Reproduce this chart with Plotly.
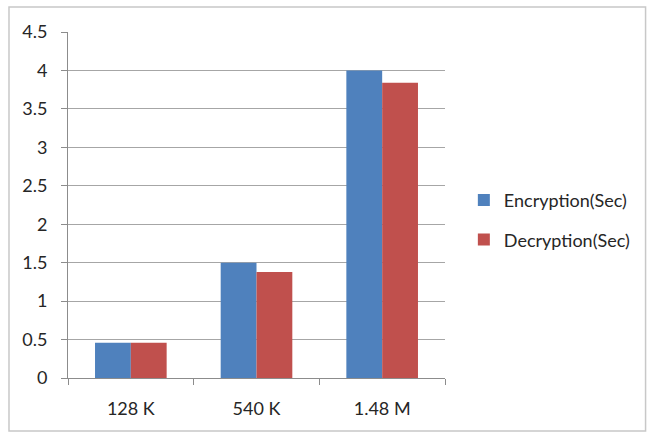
import plotly.graph_objects as go

# File sizes tested and timings in seconds
categories = ["128 K", "540 K", "1.48 M"]
encryption_sec = [0.46, 1.5, 4.0]
decryption_sec = [0.46, 1.38, 3.84]
y_ticks = [0, 0.5, 1, 1.5, 2, 2.5, 3, 3.5, 4, 4.5]
y_tick_text = ["0", "0.5", "1", "1.5", "2", "2.5", "3", "3.5", "4", "4.5"]

FONT = "Lato, 'Open Sans', sans-serif"
AXIS_GREY = "#8c8c8c"
TEXT = "#262626"

fig = go.Figure()
fig.add_trace(go.Bar(
    name="Encryption(Sec)", x=categories, y=encryption_sec, legendgroup="enc",
    marker=dict(color="#4F81BD", line=dict(width=0)),
))
fig.add_trace(go.Bar(
    name="Decryption(Sec)", x=categories, y=decryption_sec, legendgroup="dec",
    marker=dict(color="#C0504D", line=dict(width=0)),
))

fig.update_layout(
    width=648, height=433,
    margin=dict(l=68, r=203, t=32, b=55),
    paper_bgcolor="white", plot_bgcolor="white",
    barmode="group", bargap=0.43, bargroupgap=0,
    font=dict(family=FONT, size=18, color=TEXT),
    showlegend=True,
    legend=dict(
        x=1.05, y=0.457, xanchor="left", yanchor="middle",
        font=dict(family=FONT, size=18, color=TEXT),
        itemwidth=30, tracegroupgap=13,
        bgcolor="rgba(0,0,0,0)",
    ),
    xaxis=dict(
        type="category", showgrid=False,
        showline=True, linecolor=AXIS_GREY, linewidth=1,
        ticks="outside", tickson="boundaries", ticklen=6, tickcolor=AXIS_GREY,
        tickfont=dict(size=18), ticklabelstandoff=14, fixedrange=True,
    ),
    yaxis=dict(
        range=[0, 4.5], tickvals=y_ticks, ticktext=y_tick_text,
        showgrid=True, gridcolor="#a6a6a6", gridwidth=1,
        showline=True, linecolor=AXIS_GREY, linewidth=1,
        ticks="outside", ticklen=6, tickcolor=AXIS_GREY,
        zeroline=False, tickfont=dict(size=18), ticklabelstandoff=10,
        fixedrange=True,
    ),
    shapes=[dict(
        type="rect", xref="paper", yref="paper",
        x0=-0.1565, x1=1.532, y0=-0.153, y1=1.072,
        line=dict(color="#c8c8c8", width=1.5), fillcolor="rgba(0,0,0,0)",
        layer="below",
    )],
)

fig.write_html("out.html")
